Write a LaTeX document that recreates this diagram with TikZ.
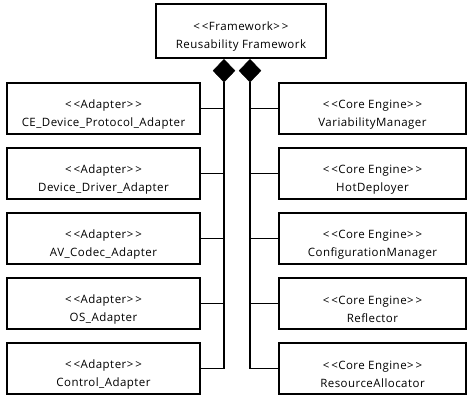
\documentclass[tikz,border=0pt]{standalone}
\usepackage{fontspec}
\setmainfont[LetterSpace=4]{Open Sans}
\usetikzlibrary{positioning, shapes.geometric}

\begin{document}
\begin{tikzpicture}[
    x=1pt, y=-1pt,
    box/.style={draw, line width=1.3pt, minimum height=51pt, inner sep=0pt, #1},
    tag/.style={align=center, inner sep=0pt, font=\fontsize{11.5}{17.5}\selectfont},
    knot/.style={draw, fill=black, diamond, inner sep=0pt, minimum width=22pt, minimum height=23pt, anchor=north},
    link/.style={line width=1.5pt},
]
    \useasboundingbox (0,0) rectangle (468,396);

    % Framework
    \node[box={minimum width=170pt, minimum height=54pt}] (frame) at (241,31) {};
    \node[tag] (frametxt) at ([yshift=-5.5pt]frame.center) {<\,<Framework>\,>\\Reusability Framework};
    \node[knot] (dl) at (224,59) {};
    \node[knot] (dr) at (250,59) {};

    % Adapters
    \foreach \name [count=\i from 0] in {CE\_Device\_Protocol\_Adapter, Device\_Driver\_Adapter, AV\_Codec\_Adapter, OS\_Adapter, Control\_Adapter} {
        \node[box={minimum width=193pt}] (ad\i) at (103.5, 108.5+65*\i) {};
        \node[tag] (adtxt\i) at ([yshift=-6pt]ad\i.center) {<\,<Adapter>\,>\\\name};
    }

    % Core engines
    \foreach \name [count=\i from 0] in {VariabilityManager, HotDeployer, ConfigurationManager, Reflector, ResourceAllocator} {
        \node[box={minimum width=187pt}] (ce\i) at (372.5, 108.5+65*\i) {};
        \node[tag] (cetxt\i) at ([yshift=-6pt]ce\i.center) {<\,<Core Engine>\,>\\\name};
    }

    % Composition links
    \foreach \i in {0,...,4} {
        \draw[link] (ad\i.east) -| (dl.south);
        \draw[link] (ce\i.west) -| (dr.south);
    }
\end{tikzpicture}
\end{document}
